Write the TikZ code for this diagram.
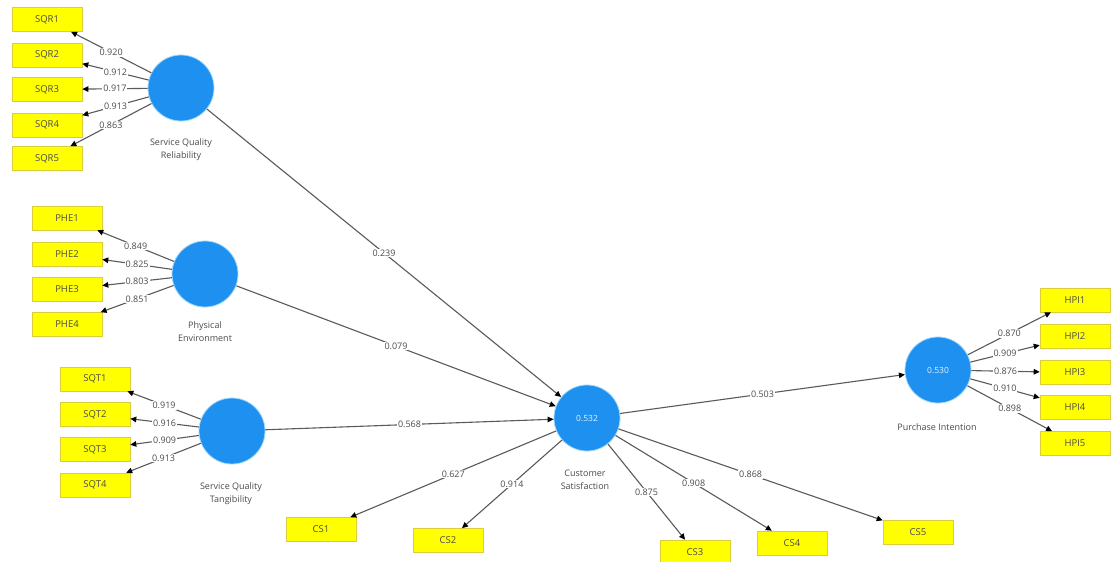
\documentclass[tikz,border=0pt]{standalone}
\usepackage{fontspec}
\setmainfont{Open Sans}
\usetikzlibrary{arrows.meta}
\definecolor{lvblue}{RGB}{30,144,240}
\definecolor{lvedge}{RGB}{160,215,250}
\definecolor{indyellow}{RGB}{255,255,0}
\definecolor{indborder}{RGB}{220,205,60}
\definecolor{linegray}{RGB}{90,90,90}
\definecolor{txtgray}{RGB}{75,75,75}
\begin{document}
\begin{tikzpicture}[x=1pt,y=-1pt,
  lv/.style={circle, fill=lvblue, draw=lvedge, line width=0.8pt, minimum size=66pt, inner sep=0pt, text=white!88!lvblue, font=\fontsize{8.5}{9}\selectfont},
  ind/.style={rectangle, fill=indyellow, draw=indborder, line width=0.6pt, minimum width=70pt, minimum height=24pt, inner sep=0pt, text=txtgray, font=\fontsize{9.5}{10}\selectfont},
  lvcaption/.style={align=center, text=txtgray, font=\fontsize{9}{13}\selectfont},
  conn/.style={draw=linegray, line width=1.1pt, -{Triangle[length=6pt,width=5.5pt,color=black]}},
  wt/.style={fill=white, inner sep=1pt, text=txtgray, font=\fontsize{9}{10}\selectfont, pos=0.5}
]
\useasboundingbox[fill=white] (0,0) rectangle (1112,562);

% latent variables
\node[lv] (sqrc) at (181,88) {};
\node[lv] (phec) at (205,274) {};
\node[lv] (sqtc) at (232,431) {};
\node[lv] (csc) at (587,418) {0.532};
\node[lv] (pic) at (938,370) {0.530};

% captions
\node[lvcaption] (sqrcap) at (181,149.5) {Service Quality\\Reliability};
\node[lvcaption] (phecap) at (205,332) {Physical\\Environment};
\node[lvcaption] (sqtcap) at (231,494) {Service Quality\\Tangibility};
\node[lvcaption] (cscap) at (585,480) {Customer\\Satisfaction};
\node[lvcaption] (picap) at (937,427) {Purchase Intention};

% indicators
\node[ind] (sqr1) at (47,19.5) {SQR1};
\node[ind] (sqr2) at (47,55) {SQR2};
\node[ind] (sqr3) at (47,89.5) {SQR3};
\node[ind] (sqr4) at (47,125) {SQR4};
\node[ind] (sqr5) at (47,158.5) {SQR5};

\node[ind] (phe1) at (67,218) {PHE1};
\node[ind] (phe2) at (67,254.5) {PHE2};
\node[ind] (phe3) at (67,289.5) {PHE3};
\node[ind] (phe4) at (67,324.5) {PHE4};

\node[ind] (sqt1) at (95,379) {SQT1};
\node[ind] (sqt2) at (95,414.5) {SQT2};
\node[ind] (sqt3) at (95,449.5) {SQT3};
\node[ind] (sqt4) at (95,485) {SQT4};

\node[ind] (hpi1) at (1075,300) {HPI1};
\node[ind] (hpi2) at (1075,336.5) {HPI2};
\node[ind] (hpi3) at (1075,372.5) {HPI3};
\node[ind] (hpi4) at (1075,407.5) {HPI4};
\node[ind] (hpi5) at (1075,443.5) {HPI5};

\node[ind] (cs1) at (321,529.5) {CS1};
\node[ind] (cs2) at (448,540.5) {CS2};
\node[ind] (cs3) at (695,552) {CS3};
\node[ind] (cs4) at (792,543) {CS4};
\node[ind] (cs5) at (918,532.5) {CS5};

% outer loadings
\draw[conn] (sqrc) -- node[wt]{0.920} (sqr1);
\draw[conn] (sqrc) -- node[wt]{0.912} (sqr2);
\draw[conn] (sqrc) -- node[wt]{0.917} (sqr3);
\draw[conn] (sqrc) -- node[wt]{0.913} (sqr4);
\draw[conn] (sqrc) -- node[wt]{0.863} (sqr5);

\draw[conn] (phec) -- node[wt]{0.849} (phe1);
\draw[conn] (phec) -- node[wt]{0.825} (phe2);
\draw[conn] (phec) -- node[wt]{0.803} (phe3);
\draw[conn] (phec) -- node[wt]{0.851} (phe4);

\draw[conn] (sqtc) -- node[wt]{0.919} (sqt1);
\draw[conn] (sqtc) -- node[wt]{0.916} (sqt2);
\draw[conn] (sqtc) -- node[wt]{0.909} (sqt3);
\draw[conn] (sqtc) -- node[wt]{0.913} (sqt4);

\draw[conn] (pic) -- node[wt]{0.870} (hpi1);
\draw[conn] (pic) -- node[wt]{0.909} (hpi2);
\draw[conn] (pic) -- node[wt]{0.876} (hpi3);
\draw[conn] (pic) -- node[wt]{0.910} (hpi4);
\draw[conn] (pic) -- node[wt]{0.898} (hpi5);

\draw[conn] (csc) -- node[wt]{0.627} (cs1);
\draw[conn] (csc) -- node[wt]{0.914} (cs2);
\draw[conn] (csc) -- node[wt]{0.875} (cs3);
\draw[conn] (csc) -- node[wt]{0.908} (cs4);
\draw[conn] (csc) -- node[wt]{0.868} (cs5);

% structural paths
\draw[conn] (sqrc) -- node[wt]{0.239} (csc);
\draw[conn] (phec) -- node[wt]{0.079} (csc);
\draw[conn] (sqtc) -- node[wt]{0.568} (csc);
\draw[conn] (csc) -- node[wt]{0.503} (pic);
\end{tikzpicture}
\end{document}
